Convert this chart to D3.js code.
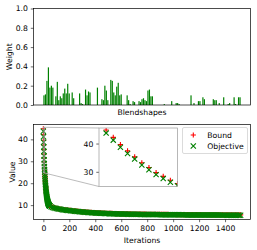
<!DOCTYPE html>
<html>
<head>
<meta charset="utf-8">
<script src="https://cdn.jsdelivr.net/npm/d3@7"></script>
<style>
  body { margin: 0; background: #fff; }
  svg { display: block; font-family: "DejaVu Sans", sans-serif; }
</style>
</head>
<body>
<svg id="chart" width="257" height="250"></svg>
<script>
// blendshape weights, one per blendshape (133)
const blendshapeWeights = [
  0.10, 0.11, 0.25, 0.39, 0.18, 0.20, 0.18, 0, 0.09, 0.24,
  0.05, 0.09, 0.07, 0.12, 0.17, 0.12, 0.22, 0.12, 0, 0.13,
  0.07, 0, 0, 0, 0.12, 0.02, 0.01, 0, 0.16, 0.10,
  0.14, 0.13, 0, 0, 0, 0, 0.18, 0, 0, 0.06,
  0.05, 0.20, 0.15, 0.05, 0, 0.26, 0.25, 0.13, 0.10, 0.19,
  0.23, 0.10, 0.11, 0, 0, 0, 0.10, 0.05, 0.01, 0,
  0.04, 0.03, 0, 0, 0.04, 0.03, 0.06, 0.07, 0.05, 0.04,
  0.15, 0.16, 0.09, 0.09, 0, 0, 0, 0, 0, 0,
  0, 0.01, 0, 0, 0, 0, 0.04, 0, 0, 0.02,
  0.02, 0.01, 0, 0, 0, 0, 0, 0, 0, 0.10,
  0, 0.02, 0, 0, 0.04, 0.04, 0, 0.08, 0.06, 0,
  0, 0, 0, 0, 0.06, 0.05, 0.05, 0, 0.02, 0,
  0, 0.08, 0, 0, 0.01, 0.02, 0, 0, 0.08, 0.01,
  0, 0.08, 0.08
];

// iterations 0..49, every iteration
const earlyIterations = d3.range(0, 50);
const earlyBound = [
  44.8, 42.2, 39.6, 37.4, 35.3, 33.2, 31.5, 29.7, 28.4, 27.0,
  25.8, 24.6, 23.6, 22.6, 21.6, 20.8, 20.0, 19.2, 18.5, 17.9,
  17.3, 16.7, 16.1, 15.6, 15.1, 14.7, 14.3, 13.9, 13.5, 13.2,
  12.9, 12.6, 12.3, 12.0, 11.7, 11.5, 11.3, 11.1, 10.9, 10.8,
  10.6, 10.5, 10.4, 10.3, 10.2, 10.1, 10.0, 9.95, 9.9, 9.85
];
const earlyObjective = [
  43.7, 41.2, 38.7, 36.5, 34.5, 32.4, 30.7, 29.0, 27.6, 26.3,
  25.1, 24.0, 23.0, 22.0, 21.1, 20.3, 19.5, 18.8, 18.1, 17.5,
  16.9, 16.3, 15.8, 15.3, 14.8, 14.4, 14.0, 13.6, 13.2, 12.9,
  12.6, 12.3, 12.0, 11.8, 11.5, 11.3, 11.1, 10.9, 10.7, 10.6,
  10.4, 10.3, 10.2, 10.1, 10.0, 9.9, 9.85, 9.8, 9.75, 9.7
];

// iterations 50..1520, every 10th
const lateIterations = d3.range(50, 1521, 10);
const lateBound = [
  9.75, 9.34, 9.08, 8.88, 8.72, 8.57, 8.42, 8.32, 8.22, 8.12, 8.02, 7.94, 7.86, 7.79, 7.72, 7.65,
  7.57, 7.50, 7.43, 7.36, 7.29, 7.23, 7.17, 7.11, 7.05, 7.00, 6.95, 6.90, 6.85, 6.80, 6.75, 6.71, 6.67, 6.63, 6.59, 6.55,
  6.52, 6.49, 6.46, 6.43, 6.40, 6.37, 6.34, 6.31, 6.29, 6.27, 6.24, 6.22, 6.20, 6.18, 6.16, 6.14, 6.12, 6.10, 6.08, 6.06,
  6.05, 6.04, 6.03, 6.02, 6.01, 5.99, 5.98, 5.97, 5.96, 5.95, 5.94, 5.93, 5.92, 5.91, 5.90, 5.89, 5.88, 5.87, 5.86, 5.85,
  5.84, 5.84, 5.83, 5.82, 5.82, 5.81, 5.80, 5.80, 5.79, 5.78, 5.78, 5.77, 5.76, 5.76, 5.75, 5.75, 5.74, 5.73, 5.73, 5.72,
  5.72, 5.71, 5.71, 5.70, 5.70, 5.69, 5.69, 5.68, 5.68, 5.67, 5.67, 5.66, 5.66, 5.65, 5.65, 5.65, 5.64, 5.64, 5.63, 5.63,
  5.63, 5.62, 5.62, 5.62, 5.61, 5.61, 5.61, 5.60, 5.60, 5.60, 5.59, 5.59, 5.59, 5.58, 5.58, 5.58, 5.57, 5.57, 5.57, 5.57,
  5.56, 5.56, 5.56, 5.56, 5.55, 5.55, 5.55, 5.55, 5.54, 5.54, 5.54, 5.54
];
const lateObjective = [
  9.60, 9.20, 8.95, 8.75, 8.60, 8.45, 8.30, 8.20, 8.10, 8.00, 7.90, 7.82, 7.74, 7.67, 7.60, 7.53,
  7.45, 7.38, 7.31, 7.24, 7.17, 7.11, 7.05, 6.99, 6.93, 6.88, 6.83, 6.78, 6.73, 6.68, 6.63, 6.59, 6.55, 6.51, 6.47, 6.43,
  6.40, 6.37, 6.34, 6.31, 6.28, 6.25, 6.22, 6.19, 6.17, 6.15, 6.12, 6.10, 6.08, 6.06, 6.04, 6.02, 6.00, 5.98, 5.96, 5.94,
  5.93, 5.92, 5.91, 5.90, 5.89, 5.87, 5.86, 5.85, 5.84, 5.83, 5.82, 5.81, 5.80, 5.79, 5.78, 5.77, 5.76, 5.75, 5.74, 5.73,
  5.72, 5.72, 5.71, 5.70, 5.70, 5.69, 5.68, 5.68, 5.67, 5.66, 5.66, 5.65, 5.64, 5.64, 5.63, 5.63, 5.62, 5.61, 5.61, 5.60,
  5.60, 5.59, 5.59, 5.58, 5.58, 5.57, 5.57, 5.56, 5.56, 5.55, 5.55, 5.54, 5.54, 5.53, 5.53, 5.53, 5.52, 5.52, 5.51, 5.51,
  5.51, 5.50, 5.50, 5.50, 5.49, 5.49, 5.49, 5.48, 5.48, 5.48, 5.47, 5.47, 5.47, 5.46, 5.46, 5.46, 5.45, 5.45, 5.45, 5.45,
  5.44, 5.44, 5.44, 5.44, 5.43, 5.43, 5.43, 5.43, 5.42, 5.42, 5.42, 5.42
];

const weightTicks = [0, 0.2, 0.4, 0.6, 0.8, 1.0];
const iterationTicks = [0, 200, 400, 600, 800, 1000, 1200, 1400];
const valueTicks = [10, 20, 30, 40];
const insetTicks = [30, 40];
const insetIterRange = [-1, 10];
const insetValueRange = [24.8, 45.5];
const seriesNames = ["Bound", "Objective"];

const fontSize = 7.7;
const tickLen = 2.7;
const green = "#008000";
const red = "#ff0000";

const svg = d3.select("#chart");
svg.append("rect").attr("width", 257).attr("height", 250).attr("fill", "#fff");

const left = 33.5;
const right = 250.5;

function styleAxis(g) {
  g.select(".domain").remove();
  g.attr("font-size", fontSize).attr("font-family", "DejaVu Sans, sans-serif");
  g.selectAll(".tick line").attr("stroke", "#000").attr("stroke-width", 0.6);
  g.selectAll(".tick text").attr("fill", "#000");
}

function frame(x0, y0, x1, y1, color) {
  svg.append("rect")
    .attr("x", x0).attr("y", y0)
    .attr("width", x1 - x0).attr("height", y1 - y0)
    .attr("fill", "none")
    .attr("stroke", color || "#000")
    .attr("stroke-width", 0.7);
}

// ---------- top: blendshape weights ----------
const topY0 = 8.5;
const topY1 = 105;
const n = blendshapeWeights.length;
const barMargin = 0.05 * (n - 0.2);

const xBar = d3.scaleLinear()
  .domain([-0.4 - barMargin, n - 0.6 + barMargin])
  .range([left, right]);
const yWeight = d3.scaleLinear().domain([0, 1]).range([topY1, topY0]);

svg.append("g")
  .selectAll("rect")
  .data(blendshapeWeights)
  .join("rect")
  .attr("x", (d, i) => xBar(i - 0.4))
  .attr("width", (d, i) => xBar(i + 0.4) - xBar(i - 0.4))
  .attr("y", (d) => yWeight(d))
  .attr("height", (d) => yWeight(0) - yWeight(d))
  .attr("fill", green);

svg.append("g")
  .attr("transform", `translate(${left},0)`)
  .call(
    d3.axisLeft(yWeight)
      .tickValues(weightTicks)
      .tickFormat(d3.format(".1f"))
      .tickSize(tickLen)
      .tickPadding(2.9)
  )
  .call(styleAxis);

frame(left, topY0, right, topY1);

svg.append("text")
  .attr("x", (left + right) / 2)
  .attr("y", 115)
  .attr("text-anchor", "middle")
  .attr("font-size", fontSize)
  .text("Blendshapes");

svg.append("text")
  .attr("transform", `translate(11.5,${(topY0 + topY1) / 2}) rotate(-90)`)
  .attr("text-anchor", "middle")
  .attr("font-size", fontSize)
  .text("Weight");

// ---------- bottom: optimisation values ----------
const botY0 = 124.5;
const botY1 = 219.5;

const boundPoints = earlyIterations
  .map((it, i) => ({ it, v: earlyBound[i] }))
  .concat(lateIterations.map((it, i) => ({ it, v: lateBound[i] })));
const objectivePoints = earlyIterations
  .map((it, i) => ({ it, v: earlyObjective[i] }))
  .concat(lateIterations.map((it, i) => ({ it, v: lateObjective[i] })));

const allIters = boundPoints.map((d) => d.it);
const allValues = boundPoints.concat(objectivePoints).map((d) => d.v);
const [itMin, itMax] = d3.extent(allIters);
const [vMin, vMax] = d3.extent(allValues);
const itPad = 0.05 * (itMax - itMin);
const vPad = 0.05 * (vMax - vMin);

const xIter = d3.scaleLinear()
  .domain([itMin - itPad, itMax + itPad])
  .range([left, right]);
const yValue = d3.scaleLinear()
  .domain([vMin - vPad, vMax + vPad])
  .range([botY1, botY0]);

const markerR = 2.6;
const plusPath = `M${-markerR},0H${markerR}M0,${-markerR}V${markerR}`;
const crossPath = `M${-markerR},${-markerR}L${markerR},${markerR}M${-markerR},${markerR}L${markerR},${-markerR}`;

const defs = svg.append("defs");
defs.append("clipPath").attr("id", "clip-main")
  .append("rect")
  .attr("x", left).attr("y", botY0)
  .attr("width", right - left).attr("height", botY1 - botY0);

function drawMarkers(parent, points, xs, ys, path, color) {
  parent.append("g")
    .selectAll("path")
    .data(points)
    .join("path")
    .attr("d", path)
    .attr("transform", (d) => `translate(${xs(d.it)},${ys(d.v)})`)
    .attr("fill", "none")
    .attr("stroke", color)
    .attr("stroke-width", 1.1);
}

const mainPlot = svg.append("g").attr("clip-path", "url(#clip-main)");
drawMarkers(mainPlot, boundPoints, xIter, yValue, plusPath, red);
drawMarkers(mainPlot, objectivePoints, xIter, yValue, crossPath, green);

svg.append("g")
  .attr("transform", `translate(0,${botY1})`)
  .call(
    d3.axisBottom(xIter)
      .tickValues(iterationTicks)
      .tickFormat(d3.format("d"))
      .tickSize(tickLen)
      .tickPadding(3.4)
  )
  .call(styleAxis);

svg.append("g")
  .attr("transform", `translate(${left},0)`)
  .call(
    d3.axisLeft(yValue)
      .tickValues(valueTicks)
      .tickFormat(d3.format("d"))
      .tickSize(tickLen)
      .tickPadding(2.9)
  )
  .call(styleAxis);

frame(left, botY0, right, botY1);

svg.append("text")
  .attr("x", (left + right) / 2)
  .attr("y", 243)
  .attr("text-anchor", "middle")
  .attr("font-size", fontSize)
  .text("Iterations");

svg.append("text")
  .attr("transform", `translate(14.5,${(botY0 + botY1) / 2}) rotate(-90)`)
  .attr("text-anchor", "middle")
  .attr("font-size", fontSize)
  .text("Value");

// ---------- inset: first iterations ----------
const inX0 = 99;
const inX1 = 177.5;
const inY0 = 128;
const inY1 = 186.5;

const xInset = d3.scaleLinear().domain(insetIterRange).range([inX0, inX1]);
const yInset = d3.scaleLinear().domain(insetValueRange).range([inY1, inY0]);

// zoomed region in the main axes and its connectors
const zx0 = xIter(insetIterRange[0]);
const zx1 = xIter(insetIterRange[1]);
const zy0 = yValue(insetValueRange[1]);
const zy1 = yValue(insetValueRange[0]);

svg.append("rect")
  .attr("x", zx0).attr("y", zy0)
  .attr("width", zx1 - zx0).attr("height", zy1 - zy0)
  .attr("fill", "none")
  .attr("stroke", "#999")
  .attr("stroke-width", 0.7);

svg.append("line")
  .attr("x1", zx0).attr("y1", zy0).attr("x2", inX0).attr("y2", inY0)
  .attr("stroke", "#aaa").attr("stroke-width", 0.8);
svg.append("line")
  .attr("x1", zx0).attr("y1", zy1).attr("x2", inX0).attr("y2", inY1)
  .attr("stroke", "#aaa").attr("stroke-width", 0.8);

svg.append("rect")
  .attr("x", inX0).attr("y", inY0)
  .attr("width", inX1 - inX0).attr("height", inY1 - inY0)
  .attr("fill", "#fff");

defs.append("clipPath").attr("id", "clip-inset")
  .append("rect")
  .attr("x", inX0).attr("y", inY0)
  .attr("width", inX1 - inX0).attr("height", inY1 - inY0);

const insetPlot = svg.append("g").attr("clip-path", "url(#clip-inset)");
drawMarkers(insetPlot, boundPoints, xInset, yInset, plusPath, red);
drawMarkers(insetPlot, objectivePoints, xInset, yInset, crossPath, green);

svg.append("g")
  .attr("transform", `translate(${inX0},0)`)
  .call(
    d3.axisLeft(yInset)
      .tickValues(insetTicks)
      .tickFormat(d3.format("d"))
      .tickSize(tickLen)
      .tickPadding(2.9)
  )
  .call(styleAxis);

frame(inX0, inY0, inX1, inY1, "#999");

// ---------- legend ----------
const legend = svg.append("g");
legend.append("rect")
  .attr("x", 182.5).attr("y", 127.5)
  .attr("width", 65).attr("height", 26)
  .attr("rx", 1.5)
  .attr("fill", "#fff")
  .attr("fill-opacity", 0.8)
  .attr("stroke", "#ccc")
  .attr("stroke-width", 0.7);

const legendRows = legend.selectAll("g.row")
  .data(seriesNames)
  .join("g")
  .attr("class", "row")
  .attr("transform", (d, i) => `translate(193.3,${135 + i * 11})`);

legendRows.append("path")
  .attr("d", (d, i) => (i === 0 ? plusPath : crossPath))
  .attr("fill", "none")
  .attr("stroke", (d, i) => (i === 0 ? red : green))
  .attr("stroke-width", 1.1);

legendRows.append("text")
  .attr("x", 14)
  .attr("dy", "0.35em")
  .attr("font-size", fontSize)
  .text((d) => d);
</script>
</body>
</html>
